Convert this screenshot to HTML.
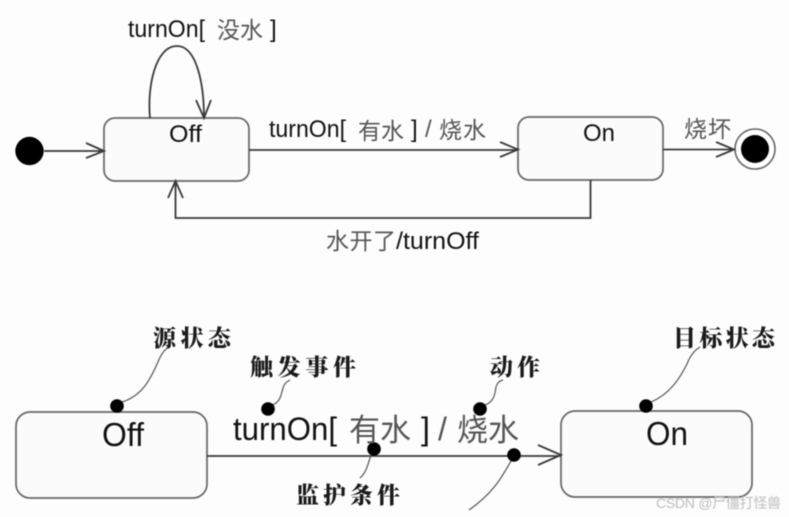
<!DOCTYPE html>
<html>
<head>
<meta charset="utf-8">
<style>
html,body{margin:0;padding:0;background:#fdfdfd;}
svg{display:block;filter:blur(0.4px);}
.t{font-family:"Liberation Sans","Noto Sans CJK SC",sans-serif;fill:#111;}
.c{font-family:"Liberation Sans","Noto Sans CJK SC",sans-serif;fill:#555;}
.b{font-family:"Noto Serif CJK SC","Liberation Serif",serif;font-weight:900;fill:#1a1a1a;font-size:23px;}
.box{fill:#fbfbfb;stroke:#666;stroke-width:1.7;}
.l{fill:none;stroke:#3a3a3a;stroke-width:1.8;}
.n{fill:none;stroke:#555;stroke-width:1.2;}
</style>
</head>
<body>
<svg width="789" height="517" viewBox="0 0 789 517" xmlns="http://www.w3.org/2000/svg">
<rect x="104" y="118" width="145" height="63" rx="11" class="box"/>
<rect x="518" y="117" width="145" height="63" rx="11" class="box"/>
<circle cx="29.5" cy="151" r="14.2" fill="#000"/>
<circle cx="755" cy="149" r="20" fill="#fff" stroke="#666" stroke-width="1.6"/>
<circle cx="755" cy="149" r="14" fill="#000"/>
<path class="l" d="M44 151H104M86 143L104 151L86 158"/>
<path class="l" d="M150 118C147 88 155 46 177 46C197 46 204 85 204 118M196 100L204 118L211 100"/>
<path class="l" d="M249 150H518M500 142L518 149.500L500 157"/>
<path class="l" d="M663 149.500H734M716 142L734 149.500L716 157"/>
<path class="l" d="M590.500 180V218H175.500V181M168 198L175.500 181L183 198"/>
<text class="t" x="128" y="37" font-size="24" textLength="77" lengthAdjust="spacingAndGlyphs">turnOn[</text>
<text class="c" x="217" y="38" font-size="23" textLength="46">没水</text>
<text class="t" x="270" y="37" font-size="24">]</text>
<text class="t" x="169" y="142" font-size="24" textLength="33" lengthAdjust="spacingAndGlyphs">Off</text>
<text class="t" x="583" y="141" font-size="24" textLength="32" lengthAdjust="spacingAndGlyphs">On</text>
<text class="t" x="269" y="137" font-size="24" textLength="77" lengthAdjust="spacingAndGlyphs">turnOn[</text>
<text class="c" x="358" y="139" font-size="23" textLength="46">有水</text>
<text class="t" x="411" y="137" font-size="24">]</text>
<text class="c" x="425" y="137" font-size="24">/</text>
<text class="c" x="439" y="138" font-size="23" textLength="47">烧水</text>
<text class="c" x="684" y="137" font-size="23" textLength="47">烧坏</text>
<text class="c" x="326" y="249" font-size="23" textLength="70">水开了</text>
<text class="t" x="396" y="249" font-size="24" textLength="83" lengthAdjust="spacingAndGlyphs">/turnOff</text>

<rect x="16" y="412" width="191" height="86" rx="14" class="box"/>
<rect x="561" y="411" width="191" height="86" rx="14" class="box"/>
<path class="l" d="M207 456H561M538 445L561 455L538 465"/>
<path class="n" d="M122 402C142 396 150 380 158 362C161 354 165 349 170 346"/>
<path class="n" d="M272 405C281 402 281 394 283 388C284 384 286 382 290 380"/>
<path class="n" d="M374 450C368 458 369 470 360 478"/>
<path class="n" d="M485 405C494 402 495 394 496 387C497 383 499 381 503 380"/>
<path class="n" d="M514 456C505 470 498 490 469 510"/>
<path class="n" d="M651 402C670 394 680 378 687 364C690 356 695 350 700 347"/>
<circle cx="117" cy="406" r="6.800" fill="#000"/>
<circle cx="268" cy="409" r="6.800" fill="#000"/>
<circle cx="374" cy="449" r="6.800" fill="#000"/>
<circle cx="480" cy="409" r="6.800" fill="#000"/>
<circle cx="514" cy="455" r="6.800" fill="#000"/>
<circle cx="646" cy="406" r="6.800" fill="#000"/>
<text class="t" x="102" y="446" font-size="33" textLength="42" lengthAdjust="spacingAndGlyphs">Off</text>
<text class="t" x="646" y="445" font-size="33" textLength="42" lengthAdjust="spacingAndGlyphs">On</text>
<text class="t" x="233" y="440" font-size="32" textLength="104" lengthAdjust="spacingAndGlyphs">turnOn[</text>
<text class="c" x="349" y="441" font-size="31" textLength="62">有水</text>
<text class="t" x="421" y="440" font-size="32">]</text>
<text class="c" x="438" y="440" font-size="32">/</text>
<text class="c" x="457" y="441" font-size="31" textLength="62">烧水</text>
<text class="b" x="153" y="346" textLength="78">源状态</text>
<text class="b" x="250" y="375" textLength="106">触发事件</text>
<text class="b" x="296" y="503" textLength="104">监护条件</text>
<text class="b" x="490" y="375" textLength="50">动作</text>
<text class="b" x="673" y="346" textLength="102">目标状态</text>
<text x="656" y="508" font-family="Liberation Sans,Noto Sans CJK SC,sans-serif" font-size="14" fill="#bdbdbd" textLength="125">CSDN @尸僵打怪兽</text>
</svg>
</body>
</html>
